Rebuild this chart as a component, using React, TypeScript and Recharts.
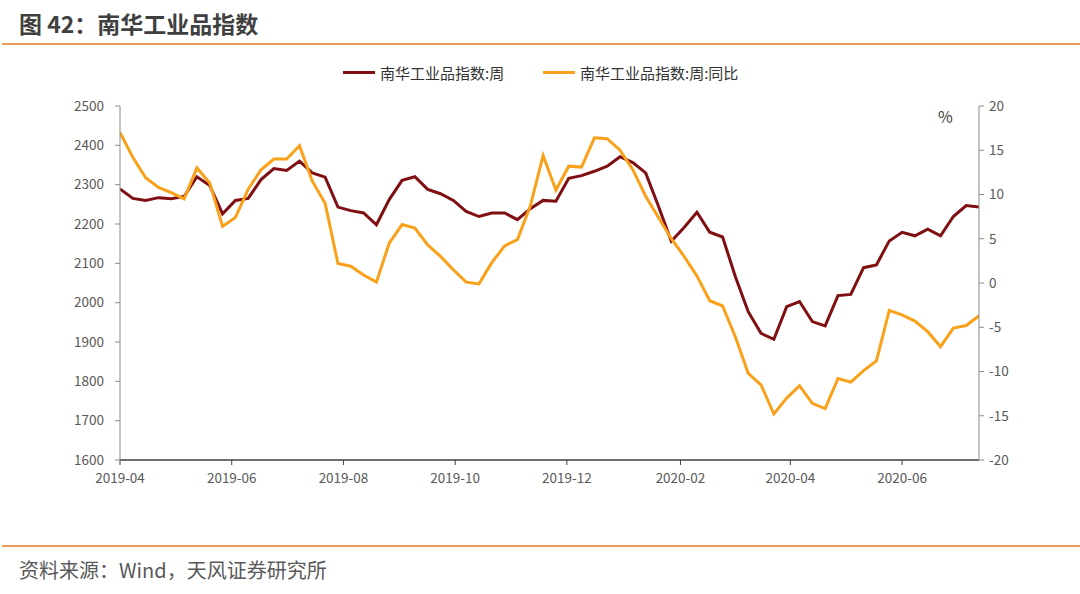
import { Line, LineChart, XAxis, YAxis } from "recharts";

const DAY = 86400000;
const START = Date.UTC(2019, 3, 1);

// 南华工业品指数:周
const indexWeekly = [
  2289, 2265, 2260, 2267, 2264, 2270, 2320, 2298, 2226, 2260, 2265, 2313, 2341, 2336, 2360, 2330, 2319,
  2243, 2234, 2228, 2198, 2262, 2311, 2320, 2288, 2277, 2260, 2232, 2219, 2228, 2228, 2211, 2239, 2260,
  2258, 2316, 2323, 2334, 2347, 2371, 2356, 2330, 2245, 2156, 2191, 2230, 2179, 2167, 2066, 1977, 1922,
  1907, 1990, 2003, 1952, 1941, 2018, 2021, 2089, 2096, 2157, 2179, 2170, 2187, 2170, 2219, 2247, 2243,
];

// 南华工业品指数:周:同比 (%)
const indexYoy = [
  17.0, 14.2, 11.9, 10.8, 10.2, 9.5, 13.0, 11.3, 6.4, 7.4, 10.6, 12.8, 14.0, 14.0, 15.5, 11.5, 9.0,
  2.2, 1.9, 0.9, 0.1, 4.5, 6.6, 6.2, 4.3, 3.0, 1.5, 0.1, -0.1, 2.3, 4.2, 4.9, 8.7, 14.4,
  10.5, 13.2, 13.1, 16.4, 16.3, 15.0, 12.8, 9.8, 7.4, 5.0, 3.0, 0.8, -2.0, -2.6, -6.1, -10.2, -11.5,
  -14.8, -13.0, -11.6, -13.6, -14.2, -10.8, -11.2, -9.9, -8.8, -3.1, -3.6, -4.3, -5.5, -7.2, -5.1, -4.8, -3.7,
];

const monthTicks = ["2019-04", "2019-06", "2019-08", "2019-10", "2019-12", "2020-02", "2020-04", "2020-06"];
const leftTicks = [1600, 1700, 1800, 1900, 2000, 2100, 2200, 2300, 2400, 2500];
const rightTicks = [-20, -15, -10, -5, 0, 5, 10, 15, 20];

const SERIES_INDEX = "南华工业品指数:周";
const SERIES_YOY = "南华工业品指数:周:同比";
const RED = "#7f0f12";
const ORANGE = "#f9a11b";
const RULE = "#ee9a58";

const data = indexWeekly.map((v, i) => ({
  t: START + i * 7 * DAY,
  index: v,
  yoy: indexYoy[i],
}));

const xTicks = monthTicks.map((m) => {
  const [y, mo] = m.split("-").map(Number);
  return Date.UTC(y, mo - 1, 1);
});

const fmtMonth = (t: number) => {
  const d = new Date(t);
  return `${d.getUTCFullYear()}-${String(d.getUTCMonth() + 1).padStart(2, "0")}`;
};

const tickStyle = { fill: "#595959", fontSize: 13.5 };
const font = '"Noto Sans CJK SC", "Open Sans", sans-serif';

function LegendItem({ color, label, left }: { color: string; label: string; left: number }) {
  return (
    <div style={{ position: "absolute", left, top: 62, display: "flex", alignItems: "center", height: 20 }}>
      <div style={{ width: 32, height: 3, background: color, marginRight: 5 }} />
      <span style={{ fontSize: 15, color: "#333" }}>{label}</span>
    </div>
  );
}

export default function App() {
  return (
    <div
      style={{
        position: "relative",
        width: 1080,
        height: 594,
        background: "#fff",
        overflow: "hidden",
        fontFamily: font,
      }}
    >
      <style>{"body{margin:0}"}</style>
      <div
        style={{
          position: "absolute",
          left: 19,
          top: 8,
          fontSize: 23,
          fontWeight: 700,
          color: "#404040",
          lineHeight: "30px",
        }}
      >
        图 42：南华工业品指数
      </div>
      <div style={{ position: "absolute", left: 2, right: 0, top: 43, height: 2, background: RULE }} />

      <LegendItem color={RED} label={SERIES_INDEX} left={343} />
      <LegendItem color={ORANGE} label={SERIES_YOY} left={543} />

      <div style={{ position: "absolute", left: 938, top: 104, fontSize: 16, color: "#404040" }}>%</div>

      <div style={{ position: "absolute", left: 0, top: 0 }}>
        <LineChart
          width={1080}
          height={500}
          data={data}
          margin={{ top: 106, right: 41, bottom: 10, left: 60 }}
          style={{ fontFamily: font }}
        >
          <XAxis
            dataKey="t"
            type="number"
            domain={[data[0].t, data[data.length - 1].t]}
            ticks={xTicks}
            tickFormatter={fmtMonth}
            tick={tickStyle}
            tickSize={5}
            tickMargin={8}
            height={30}
            axisLine={{ stroke: "#404040", strokeWidth: 1.5 }}
            tickLine={{ stroke: "#404040" }}
            allowDataOverflow
          />
          <YAxis
            yAxisId="left"
            domain={[1600, 2500]}
            ticks={leftTicks}
            tick={tickStyle}
            width={60}
            tickSize={5}
            tickMargin={11}
            axisLine={{ stroke: "#8c8c8c" }}
            tickLine={{ stroke: "#8c8c8c" }}
            allowDataOverflow
          />
          <YAxis
            yAxisId="right"
            orientation="right"
            domain={[-20, 20]}
            ticks={rightTicks}
            tick={tickStyle}
            width={60}
            tickSize={5}
            tickMargin={5}
            axisLine={{ stroke: "#8c8c8c" }}
            tickLine={{ stroke: "#8c8c8c" }}
            allowDataOverflow
          />
          <Line
            yAxisId="left"
            type="linear"
            dataKey="index"
            name={SERIES_INDEX}
            stroke={RED}
            strokeWidth={3}
            dot={false}
            isAnimationActive={false}
          />
          <Line
            yAxisId="right"
            type="linear"
            dataKey="yoy"
            name={SERIES_YOY}
            stroke={ORANGE}
            strokeWidth={3}
            dot={false}
            isAnimationActive={false}
          />
        </LineChart>
      </div>

      <div style={{ position: "absolute", left: 2, right: 0, top: 545, height: 2, background: RULE }} />
      <div
        style={{
          position: "absolute",
          left: 19,
          top: 556,
          fontSize: 20,
          color: "#595959",
          lineHeight: "28px",
        }}
      >
        资料来源：Wind，天风证券研究所
      </div>
    </div>
  );
}
